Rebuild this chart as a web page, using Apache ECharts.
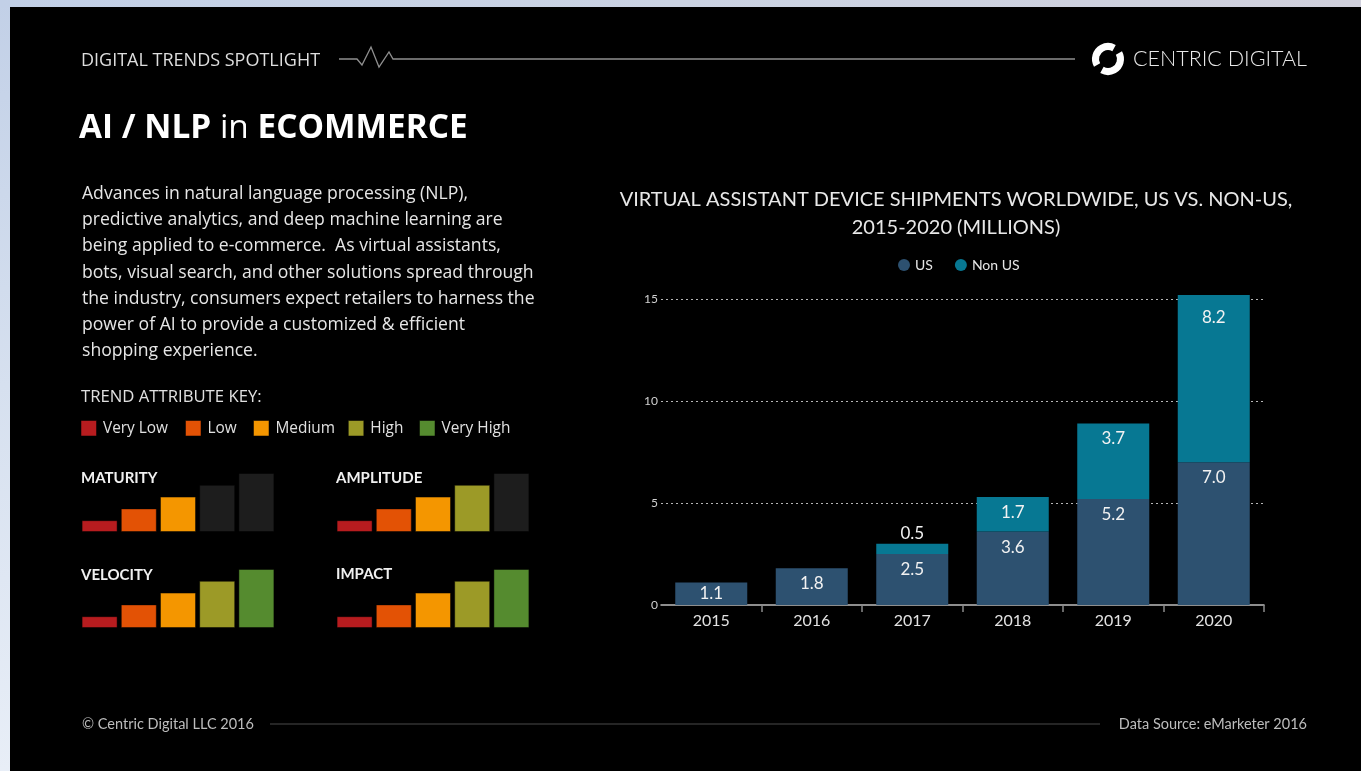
<!DOCTYPE html>
<html>
<head>
<meta charset="utf-8">
<script src="https://cdn.jsdelivr.net/npm/echarts@6/dist/echarts.min.js"></script>
<style>
html,body{margin:0;padding:0;width:1361px;height:771px;overflow:hidden;background:linear-gradient(to bottom,#c2d0e7 0%,#d6e0ef 50%,#e8eef7 100%);}
#topstrip{position:absolute;left:0;top:0;width:1361px;height:7px;background:linear-gradient(to right,#c2d0e7 0%,#cbd3e3 50%,#d0d0dc 100%);}
#panel{position:absolute;left:10px;top:7px;width:1351px;height:764px;background:#000;}
#chart{position:absolute;left:0;top:0;width:1361px;height:771px;}
</style>
</head>
<body>
<div id="topstrip"></div>
<div id="panel"></div>
<div id="chart"></div>
<script>
// ---- data ----
const years = ['2015', '2016', '2017', '2018', '2019', '2020'];
const usShipments = [1.1, 1.8, 2.5, 3.6, 5.2, 7.0];
const nonUsShipments = [null, null, 0.5, 1.7, 3.7, 8.2];
const trendLevels = ['Very Low', 'Low', 'Medium', 'High', 'Very High'];
const levelHeights = [1, 2, 3, 4, 5];
const attributeNames = ['MATURITY', 'AMPLITUDE', 'VELOCITY', 'IMPACT'];
const attributeScores = [3, 4, 5, 5];

// ---- styles ----
const FONT = 'Lato, "Open Sans", "Noto Sans", sans-serif';
const FONT2 = '"Open Sans", "Noto Sans", Lato, sans-serif';
const LEVEL_COLORS = ['#b71c1f', '#e35205', '#f49600', '#9c9a27', '#558b2f'];
const INACTIVE = '#1d1d1d';
const US_COLOR = '#2d5170';
const NONUS_COLOR = '#077893';
const miniLayout = [
  { left: 80, top: 473 }, { left: 335, top: 473 },
  { left: 80, top: 569 }, { left: 335, top: 569 }
];

const chart = echarts.init(document.getElementById('chart'), null, { renderer: 'canvas' });

const labelFmt = p => Number(p.value).toFixed(1);

const usData = usShipments.map((v, i) => {
  if (i === 0) return { value: v, label: { position: 'inside' } };
  return v;
});
const nonUsData = nonUsShipments.map((v, i) => {
  if (v === null) return '-';
  if (v < 1) return { value: v, label: { position: 'top', distance: 2 } };
  if (v > 8) return { value: v, label: { distance: 14 } };
  return v;
});

const grids = [{ left: 661, width: 603, top: 278.6, bottom: 166 }];
const xAxes = [{
  type: 'category', data: years, gridIndex: 0,
  axisLine: { show: true, lineStyle: { color: '#bdbdbd', width: 1.5 } },
  axisTick: { show: true, length: 7, interval: (idx) => idx > 0 && idx < years.length, lineStyle: { color: '#8a8a8a', width: 1.5 } },
  axisLabel: { color: '#e2e2e2', fontSize: 16, margin: 8, fontFamily: FONT }
}];
const yAxes = [{
  type: 'value', gridIndex: 0, min: 0, max: 16, interval: 5,
  axisLine: { show: false }, axisTick: { show: false },
  axisLabel: { showMaxLabel: false, color: '#d0d0d0', fontSize: 12, margin: 3, fontFamily: FONT },
  splitLine: { show: true, showMinLine: false, showMaxLine: false,
    lineStyle: { color: '#b5b5b5', width: 1, type: [2, 3] } }
}];
const series = [
  {
    name: 'US', type: 'bar', stack: 'total', xAxisIndex: 0, yAxisIndex: 0,
    barWidth: 72, data: usData,
    itemStyle: { color: US_COLOR },
    label: { show: true, position: 'insideTop', distance: 7, color: '#f2f2f2', fontSize: 17, fontFamily: FONT, formatter: labelFmt }
  },
  {
    name: 'Non US', type: 'bar', stack: 'total', xAxisIndex: 0, yAxisIndex: 0,
    barWidth: 72, data: nonUsData,
    itemStyle: { color: NONUS_COLOR },
    label: { show: true, position: 'insideTop', distance: 7, color: '#f2f2f2', fontSize: 17, fontFamily: FONT, formatter: labelFmt }
  }
];

// mini attribute charts
attributeNames.forEach((name, k) => {
  const gi = k + 1;
  grids.push({ left: miniLayout[k].left, top: miniLayout[k].top, width: 196, height: 59 });
  xAxes.push({ type: 'category', gridIndex: gi, data: trendLevels, show: false });
  yAxes.push({ type: 'value', gridIndex: gi, min: 0, max: 5, show: false, splitLine: { show: false } });
  series.push({
    name: name, type: 'bar', xAxisIndex: gi, yAxisIndex: gi, barWidth: 36, silent: true,
    data: levelHeights.map((h, i) => ({
      value: h,
      itemStyle: { color: i < attributeScores[k] ? LEVEL_COLORS[i] : INACTIVE, borderColor: 'rgba(0,0,0,0.45)', borderWidth: 1 }
    }))
  });
});

// graphic elements
const graphics = [];
// header
graphics.push({ type: 'text', x: 81, y: 60.5, style: { text: 'DIGITAL TRENDS SPOTLIGHT', fill: '#dedede', font: '18px ' + FONT2, textVerticalAlign: 'middle', verticalAlign: 'middle' } });
graphics.push({ type: 'polyline', shape: { points: [[339, 59], [357, 59], [362, 65], [371, 47], [379, 67], [389, 52], [393, 59], [1075, 59]] }, style: { stroke: '#8f8f8f', lineWidth: 1.3, fill: null } });
// logo
graphics.push({ type: 'arc', shape: { cx: 1108, cy: 59, r: 12.5, startAngle: -Math.PI / 4 + 0.28, endAngle: 3 * Math.PI / 4 - 0.28 }, style: { stroke: '#fff', lineWidth: 7, fill: null } });
graphics.push({ type: 'arc', shape: { cx: 1108, cy: 59, r: 12.5, startAngle: 3 * Math.PI / 4 + 0.28, endAngle: 7 * Math.PI / 4 - 0.28 }, style: { stroke: '#fff', lineWidth: 7, fill: null } });
graphics.push({ type: 'text', x: 1133, y: 59, style: { text: 'CENTRIC DIGITAL', fill: '#e8e8e8', font: '300 21.5px ' + FONT, textVerticalAlign: 'middle', verticalAlign: 'middle' } });
// main title
graphics.push({ type: 'text', x: 79, y: 128.5, style: {
  text: '{b|AI / NLP }{r|in}{b| ECOMMERCE}', textVerticalAlign: 'middle', verticalAlign: 'middle',
  rich: {
    b: { fontWeight: 'bold', fontSize: 33.4, fontFamily: FONT2, fill: '#ffffff', color: '#ffffff' },
    r: { fontWeight: 'normal', fontSize: 33.4, fontFamily: FONT2, fill: '#ffffff', color: '#ffffff' }
  } } });
// paragraph
graphics.push({ type: 'text', x: 82, y: 180.5, style: {
  text: 'Advances in natural language processing (NLP),\npredictive analytics, and deep machine learning are\nbeing applied to e-commerce.  As virtual assistants,\nbots, visual search, and other solutions spread through\nthe industry, consumers expect retailers to harness the\npower of AI to provide a customized & efficient\nshopping experience.',
  fill: '#e6e6e6', font: '17.6px ' + FONT2, lineHeight: 26.3, textVerticalAlign: 'top', verticalAlign: 'top' } });
// trend key
graphics.push({ type: 'text', x: 81, y: 397.5, style: { text: 'TREND ATTRIBUTE KEY:', fill: '#e0e0e0', font: '16.7px ' + FONT2, textVerticalAlign: 'middle', verticalAlign: 'middle' } });
const keyX = [81, 185.5, 253.5, 348.3, 419.5];
trendLevels.forEach((lv, i) => {
  graphics.push({ type: 'rect', shape: { x: keyX[i], y: 420.5, width: 15.5, height: 15.5 }, style: { fill: LEVEL_COLORS[i], stroke: 'rgba(0,0,0,0.5)', lineWidth: 1 } });
  graphics.push({ type: 'text', x: keyX[i] + 22, y: 428.5, style: { text: lv, fill: '#e0e0e0', font: '15.4px ' + FONT2, textVerticalAlign: 'middle', verticalAlign: 'middle' } });
});
// attribute labels
const attrLabelPos = [[81, 478.5], [336, 478.5], [81, 575], [336, 574.5]];
attributeNames.forEach((n, k) => {
  graphics.push({ type: 'text', x: attrLabelPos[k][0], y: attrLabelPos[k][1], style: { text: n, fill: '#f0f0f0', font: 'bold 15px ' + FONT, textVerticalAlign: 'middle', verticalAlign: 'middle' } });
});
// footer
graphics.push({ type: 'text', x: 82, y: 724, style: { text: '\u00A9 Centric Digital LLC 2016', fill: '#bdbdbd', font: '14.5px ' + FONT, textVerticalAlign: 'middle', verticalAlign: 'middle' } });
graphics.push({ type: 'line', shape: { x1: 270, y1: 724, x2: 1100, y2: 724 }, style: { stroke: '#4a4a4a', lineWidth: 1.2 } });
graphics.push({ type: 'text', x: 1307, y: 724, style: { text: 'Data Source: eMarketer 2016', fill: '#bdbdbd', font: '14.5px ' + FONT, textAlign: 'right', align: 'right', textVerticalAlign: 'middle', verticalAlign: 'middle' } });

chart.setOption({
  backgroundColor: 'transparent',
  animation: false,
  textStyle: { fontFamily: FONT },
  title: {
    text: 'VIRTUAL ASSISTANT DEVICE SHIPMENTS WORLDWIDE, US VS. NON-US,\n2015-2020 (MILLIONS)',
    left: 951, top: 181, textAlign: 'center',
    textStyle: { color: '#e8e8e8', fontSize: 20, fontWeight: 'normal', lineHeight: 28, fontFamily: FONT }
  },
  legend: {
    data: ['US', 'Non US'], left: 893, top: 253, icon: 'circle', itemWidth: 12, itemHeight: 12, itemGap: 22,
    selectedMode: false, textStyle: { color: '#e6e6e6', fontSize: 14, fontFamily: FONT }
  },
  grid: grids,
  xAxis: xAxes,
  yAxis: yAxes,
  series: series,
  graphic: { elements: graphics }
});
</script>
</body>
</html>
